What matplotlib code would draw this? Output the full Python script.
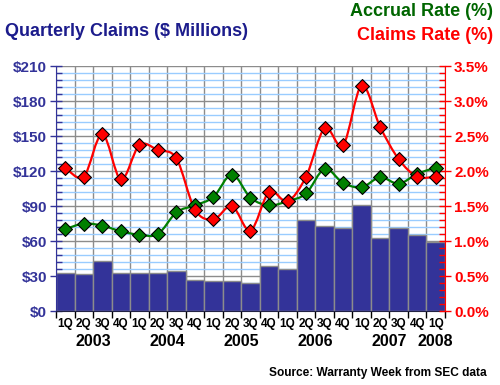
import numpy as np
import matplotlib
matplotlib.use("Agg")
import matplotlib.pyplot as plt
from matplotlib.path import Path
from matplotlib.patches import PathPatch
from matplotlib.ticker import MultipleLocator, FixedLocator
from matplotlib.transforms import blended_transform_factory

plt.rcParams['font.family'] = ['Liberation Sans', 'DejaVu Sans']

quarters = ["1Q", "2Q", "3Q", "4Q"] * 5 + ["1Q"]
years = ["2003", "2004", "2005", "2006", "2007", "2008"]
claims = [33, 32, 43, 33, 33, 33, 34, 27, 26, 26, 24, 39, 36,
          78, 72.5, 71, 90.5, 63, 71, 65.5, 59.5]
claims_rate = [2.05, 1.92, 2.53, 1.88, 2.37, 2.30, 2.18, 1.45, 1.31, 1.50, 1.15,
               1.70, 1.57, 1.92, 2.61, 2.37, 3.22, 2.63, 2.17, 1.92, 1.92]
accrual_rate = [1.17, 1.25, 1.22, 1.14, 1.09, 1.10, 1.41, 1.51, 1.63, 1.95, 1.62,
                1.51, 1.57, 1.68, 2.03, 1.83, 1.77, 1.91, 1.82, 1.96, 2.05]

NAVY = "#333399"
RED = "#ff0000"
GREEN = "#008000"


def curva_suave(ax, x, y, color):
    """Catmull-Rom spline drawn as bezier path through the points."""
    p = np.column_stack([x, y]).astype(float)
    p_ext = np.vstack([p[0], p, p[-1]])
    verts = [p[0]]
    codes = [Path.MOVETO]
    for i in range(len(p) - 1):
        p0, p1, p2, p3 = p_ext[i], p_ext[i + 1], p_ext[i + 2], p_ext[i + 3]
        c1 = p1 + (p2 - p0) / 6
        c2 = p2 - (p3 - p1) / 6
        verts += [c1, c2, p2]
        codes += [Path.CURVE4] * 3
    ax.add_patch(PathPatch(Path(verts, codes), facecolor="none",
                           edgecolor=color, lw=1.6, zorder=3))


fig = plt.figure(figsize=(5, 3.85), dpi=100)
ax = fig.add_axes([0.112, 0.192, 0.778, 0.6364])
x = np.arange(len(claims))

ax.bar(x, claims, width=1, color=NAVY, edgecolor="#8c8c8c", lw=1, zorder=2)
ax.set_xlim(-0.5, len(claims) - 0.5)
ax.set_ylim(0, 210)
ax.yaxis.set_major_locator(MultipleLocator(30))
ax.yaxis.set_minor_locator(MultipleLocator(6))
ax.set_yticklabels([f"${int(v)}" for v in ax.get_yticks()])
ax.set_axisbelow(True)
ax.grid(axis="y", which="minor", color="#99ccff", lw=1)
ax.grid(axis="y", which="major", color="#8c8c8c", lw=1)
ax.xaxis.set_major_locator(FixedLocator(np.arange(len(claims) + 1) - 0.5))
ax.xaxis.set_minor_locator(FixedLocator(x))
ax.grid(axis="x", which="major", color="#8c8c8c", lw=1)
ax.set_xticklabels([], minor=False)
ax.set_xticklabels(quarters, minor=True)
ax.tick_params(axis="x", which="major", length=5, width=1, color="black", direction="out")
ax.tick_params(axis="x", which="minor", length=0, pad=5, labelsize=8.5)
for lab in ax.get_xticklabels(minor=True):
    lab.set_fontweight("bold")
ax.tick_params(axis="y", which="major", direction="inout", length=9, width=1,
               color=NAVY, labelcolor=NAVY, labelsize=11, pad=2)
ax.tick_params(axis="y", which="minor", direction="in", length=4.5, width=1, color=NAVY)
for lab in ax.get_yticklabels():
    lab.set_fontweight("bold")
ax.spines["left"].set_color(NAVY)
ax.spines["bottom"].set_color("#222244")
ax.spines["top"].set_visible(False)
ax.spines["right"].set_visible(False)

ax2 = ax.twinx()
ax2.set_ylim(0, 3.5)
ax2.yaxis.set_major_locator(MultipleLocator(0.5))
ax2.yaxis.set_minor_locator(MultipleLocator(0.1))
ax2.set_yticklabels([f"{v:.1f}%" for v in ax2.get_yticks()])
ax2.tick_params(axis="y", which="major", direction="inout", length=9, width=1,
                color=RED, labelcolor=RED, labelsize=11, pad=2)
ax2.tick_params(axis="y", which="minor", direction="in", length=4.5, width=1, color=RED)
for lab in ax2.get_yticklabels():
    lab.set_fontweight("bold")
for s in ["left", "top", "bottom"]:
    ax2.spines[s].set_visible(False)
ax2.spines["right"].set_color(RED)

curva_suave(ax2, x, accrual_rate, GREEN)
curva_suave(ax2, x, claims_rate, RED)
ax2.scatter(x, accrual_rate, marker="D", s=50, color=GREEN, edgecolor="black",
            lw=0.8, zorder=4)
ax2.scatter(x, claims_rate, marker="D", s=50, color=RED, edgecolor="black",
            lw=0.8, zorder=4)

# years under the quarter labels
trans = blended_transform_factory(ax.transData, ax.transAxes)
centros = [1.5, 5.5, 9.5, 13.5, 17.5, 20]
for c, yr in zip(centros, years):
    ax.text(c, -0.125, yr, transform=trans, ha="center", va="center",
            fontsize=11.5, fontweight="bold", color="black")

fig.text(0.01, 1 - 31 / 385, "Quarterly Claims ($ Millions)", color="#1c1c8c",
         fontsize=13, fontweight="bold", ha="left", va="center")
fig.text(0.986, 1 - 12 / 385, "Accrual Rate (%)", color="#006600",
         fontsize=13, fontweight="bold", ha="right", va="center")
fig.text(0.986, 1 - 35 / 385, "Claims Rate (%)", color=RED,
         fontsize=13, fontweight="bold", ha="right", va="center")
fig.text(0.974, 1 - 373 / 385, "Source: Warranty Week from SEC data", color="black",
         fontsize=8.6, fontweight="bold", ha="right", va="center")

fig.savefig("out.png", dpi=100)
